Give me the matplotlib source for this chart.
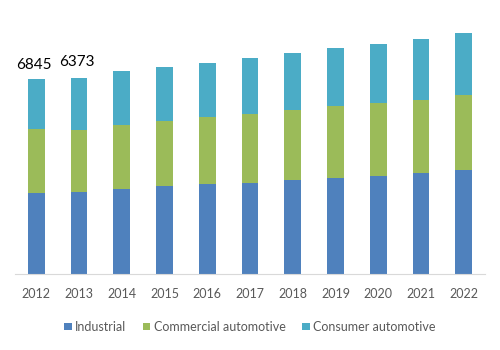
import numpy as np
import matplotlib.pyplot as plt

years = ['2012', '2013', '2014', '2015', '2016', '2017', '2018', '2019', '2020', '2021', '2022']
industrial = [2843, 2878, 2984, 3089, 3159, 3194, 3300, 3370, 3440, 3545, 3650]
commercial = [2246, 2176, 2246, 2282, 2352, 2422, 2457, 2527, 2562, 2562, 2633]
consumer = [1755, 1825, 1895, 1895, 1895, 1966, 2001, 2036, 2071, 2141, 2176]
labels = {0: '6845', 1: '6373'}

plt.rcParams['font.family'] = ['Lato', 'DejaVu Sans']

fig = plt.figure(figsize=(5, 3.5), dpi=100)
ax = fig.add_axes([0.03, 0.217, 0.94, 0.726])

x = np.arange(len(years))
w = 0.39
ind = np.array(industrial)
com = np.array(commercial)
con = np.array(consumer)
ax.bar(x, ind, w, color='#4F81BD', label='Industrial')
ax.bar(x, com, w, bottom=ind, color='#9BBB59', label='Commercial automotive')
ax.bar(x, con, w, bottom=ind + com, color='#4BACC6', label='Consumer automotive')

tot = ind + com + con
for i, txt in labels.items():
    ax.text(x[i] - 0.05, tot[i] + 250 + i * 80, txt, ha='center', va='bottom',
            fontsize=11, color='black')

ax.set_xlim(-0.5, len(years) - 0.5)
ax.set_ylim(0, 8915)
ax.set_xticks(x)
ax.set_xticklabels(years, fontsize=9, color='#595959')
ax.tick_params(axis='x', length=0, pad=10)
ax.set_yticks([])
for s in ['top', 'right', 'left']:
    ax.spines[s].set_visible(False)
ax.spines['bottom'].set_color('#D9D9D9')

fig.legend(loc='center', bbox_to_anchor=(0.5, 0.066), ncol=3, frameon=False,
           fontsize=9, handlelength=0.6, handleheight=0.6, handletextpad=0.3,
           columnspacing=1.3, labelcolor='#595959')

fig.savefig('out.png', dpi=100)
